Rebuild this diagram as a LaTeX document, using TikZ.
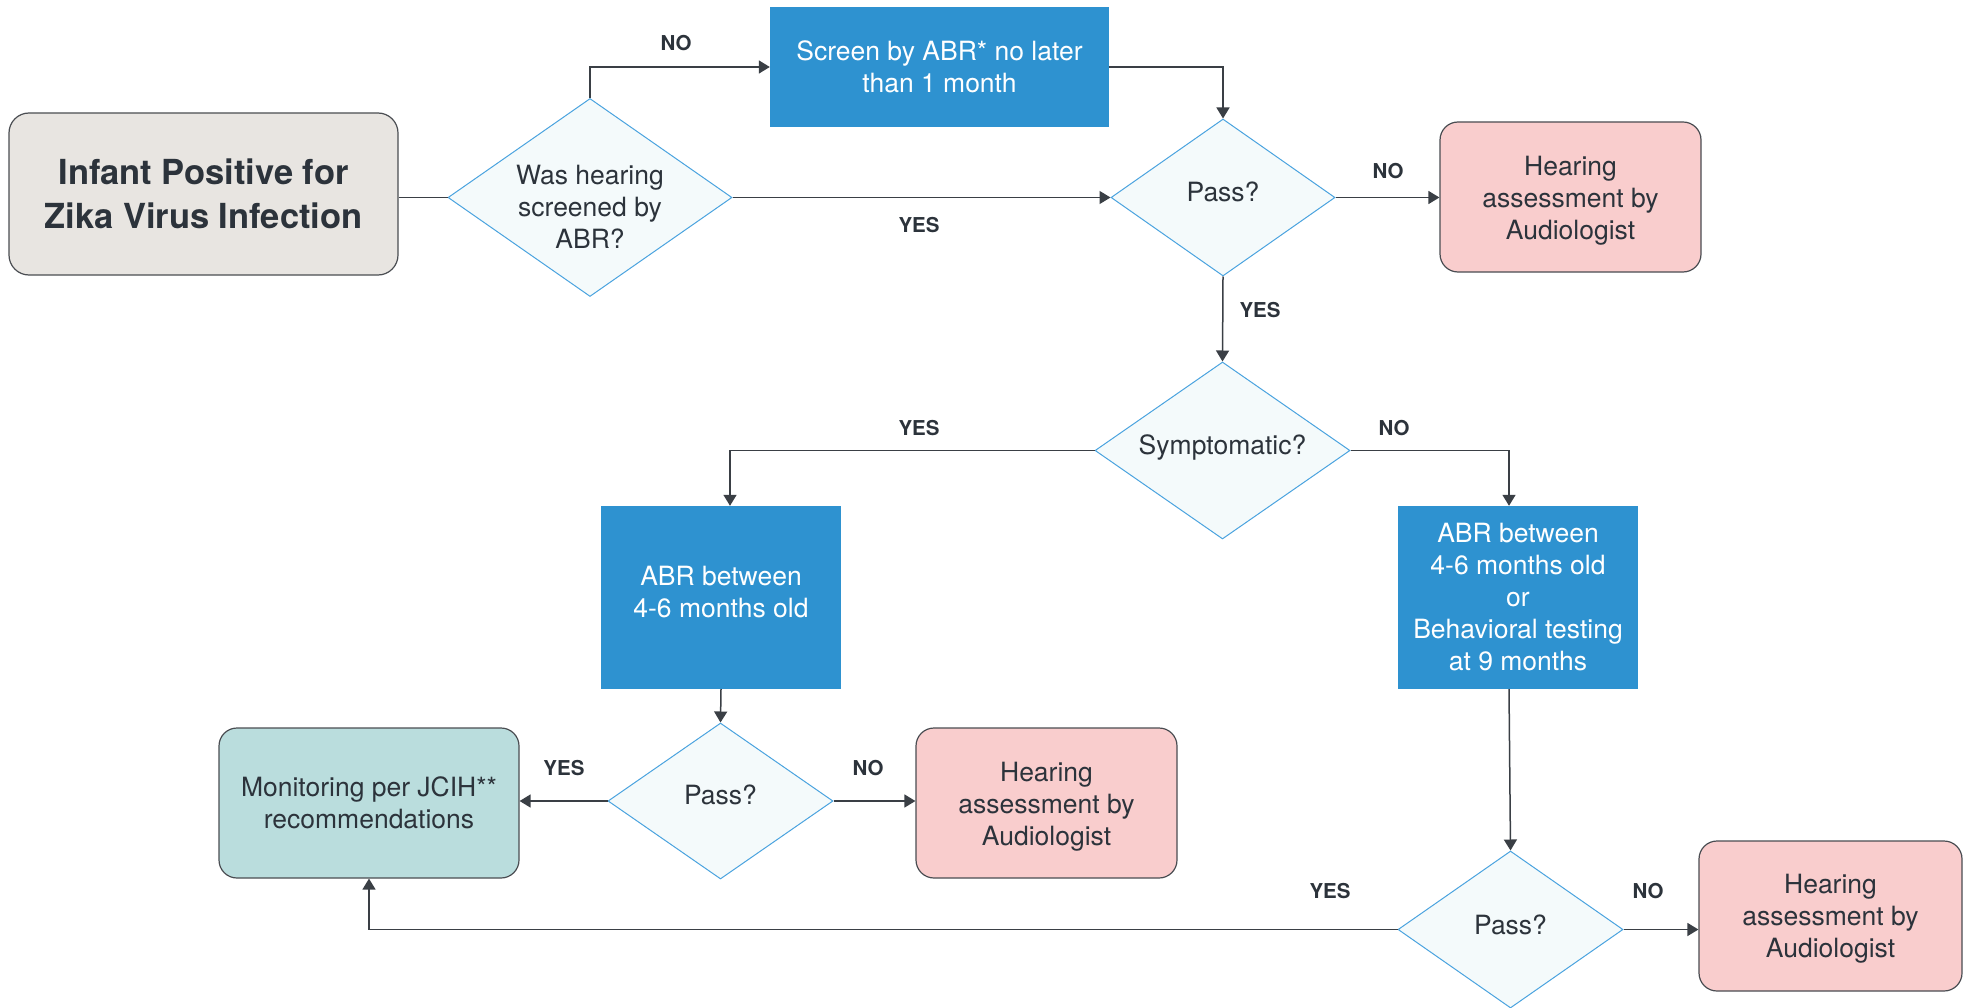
\documentclass[tikz,border=0pt]{standalone}
\usepackage{fontspec}
\setmainfont{TeX Gyre Heros}
\usetikzlibrary{shapes.geometric,arrows.meta}
\definecolor{ink}{HTML}{2C333B}
\definecolor{connclr}{HTML}{3A3F45}
\definecolor{startfill}{HTML}{E8E5E1}
\definecolor{boxedge}{HTML}{4A4D52}
\definecolor{bluefill}{HTML}{2E92D0}
\definecolor{pinkfill}{HTML}{F9CDCD}
\definecolor{tealfill}{HTML}{BADDDD}
\definecolor{diafill}{HTML}{F4FAFB}
\definecolor{diaedge}{HTML}{4AA3DF}
\begin{document}
\begin{tikzpicture}[x=1pt,y=1pt,
  base/.style={inner sep=0pt, align=center, text=ink, font=\fontsize{26.5}{32}\selectfont},
  startbox/.style={base, rounded corners=20pt, draw=boxedge, line width=1.2pt, fill=startfill,
     minimum width=389pt, minimum height=162pt, font=\bfseries\fontsize{34.5}{44}\selectfont},
  bluebox/.style={base, fill=bluefill, text=white, minimum width=240pt, minimum height=183pt},
  pinkbox/.style={base, rounded corners=18pt, draw=boxedge, line width=1.2pt, fill=pinkfill,
     minimum width=261pt, minimum height=150pt},
  tealbox/.style={base, rounded corners=18pt, draw=boxedge, line width=1.2pt, fill=tealfill,
     minimum width=300pt, minimum height=150pt},
  decide/.style={base, diamond, shape aspect=1.43, draw=diaedge, line width=1pt, fill=diafill},
  lbl/.style={inner sep=0pt, text=ink, font=\bfseries\fontsize{20.5}{22}\selectfont},
  plain/.style={draw=connclr, line width=1.5pt},
  arr/.style={plain, -{Triangle[width=13pt,length=11pt]}}
]
\useasboundingbox (0,0) rectangle (1969,-1008);

% shapes
\node[startbox] (start) at (203.5,-194) {Infant Positive for\\Zika Virus Infection};
\node[decide, minimum width=284pt, minimum height=198pt] (d1) at (590,-197.5) {};
\node[bluebox, minimum width=339pt, minimum height=120pt] (screen) at (939.5,-67) {Screen by ABR* no later\\than 1 month};
\node[decide, minimum width=224pt, minimum height=157pt] (d2) at (1223,-197.5) {};
\node[pinkbox] (hear1) at (1570.5,-197) {};
\node[decide, minimum width=255pt, minimum height=177pt] (sym) at (1222.5,-450.5) {};
\node[bluebox] (abr1) at (721,-597.5) {};
\node[bluebox] (abr2) at (1518,-597.5) {ABR between\\4-6 months old\\or\\Behavioral testing\\at 9 months};
\node[decide, minimum width=225pt, minimum height=156pt] (d3) at (720.5,-801) {};
\node[tealbox] (mon) at (369,-803) {Monitoring per JCIH**\\recommendations};
\node[pinkbox] (hear2) at (1046.5,-803) {};
\node[decide, minimum width=225pt, minimum height=157pt] (d4) at (1510.5,-929.5) {};
\node[pinkbox, minimum width=263pt] (hear3) at (1830.5,-916) {};

% texts
\node[base] (d1t) at ([yshift=-9pt]d1.center) {Was hearing\\screened by\\ABR?};
\node[base] (d2t) at ([yshift=6pt]d2.center) {Pass?};
\node[base] (h1t) at ([yshift=-4pt]hear1.center) {Hearing\\assessment by\\Audiologist};
\node[base] (symt) at ([yshift=3pt]sym.center) {Symptomatic?};
\node[base, text=white] (a1t) at ([yshift=5pt]abr1.center) {ABR between\\4-6 months old};
\node[base] (d3t) at ([yshift=6pt]d3.center) {Pass?};
\node[base] (h2t) at ([yshift=-4pt]hear2.center) {Hearing\\assessment by\\Audiologist};
\node[base] (d4t) at ([yshift=5pt]d4.center) {Pass?};
\node[base] (h3t) at ([yshift=-3pt]hear3.center) {Hearing\\assessment by\\Audiologist};

% helper coordinates
\coordinate (abr1in) at ([xshift=9pt]abr1.north);
\coordinate (abr2in) at ([xshift=-9pt]abr2.north);

% connectors
\draw[plain] (start.east |- d1.west) -- (d1.west);
\draw[arr] (d1.north) |- (screen.west);
\draw[arr] (screen.east) -| (d2.north);
\draw[arr] (d1.east) -- (d2.west);
\draw[arr] (d2.east) -- (d2.east -| hear1.west);
\draw[arr] (d2.south) -- (sym.north);
\draw[arr] (sym.west) -| (abr1in);
\draw[arr] (sym.east) -| (abr2in);
\draw[arr] (abr1.south) -- (d3.north);
\draw[arr] (d3.west) -- (d3.west -| mon.east);
\draw[arr] (d3.east) -- (d3.east -| hear2.west);
\draw[arr] (abr2in |- abr2.south) -- (d4.north);
\draw[arr] (d4.east) -- (d4.east -| hear3.west);
\draw[arr] (d4.west) -| (mon.south);

% labels
\node[lbl] (l1) at (676,-43) {NO};
\node[lbl] (l2) at (919,-225) {YES};
\node[lbl] (l3) at (1388,-171) {NO};
\node[lbl] (l4) at (1260,-310) {YES};
\node[lbl] (l5) at (919,-428) {YES};
\node[lbl] (l6) at (1394,-428) {NO};
\node[lbl] (l7) at (564,-768) {YES};
\node[lbl] (l8) at (868,-768) {NO};
\node[lbl] (l9) at (1330,-891) {YES};
\node[lbl] (l10) at (1648,-891) {NO};
\end{tikzpicture}
\end{document}
